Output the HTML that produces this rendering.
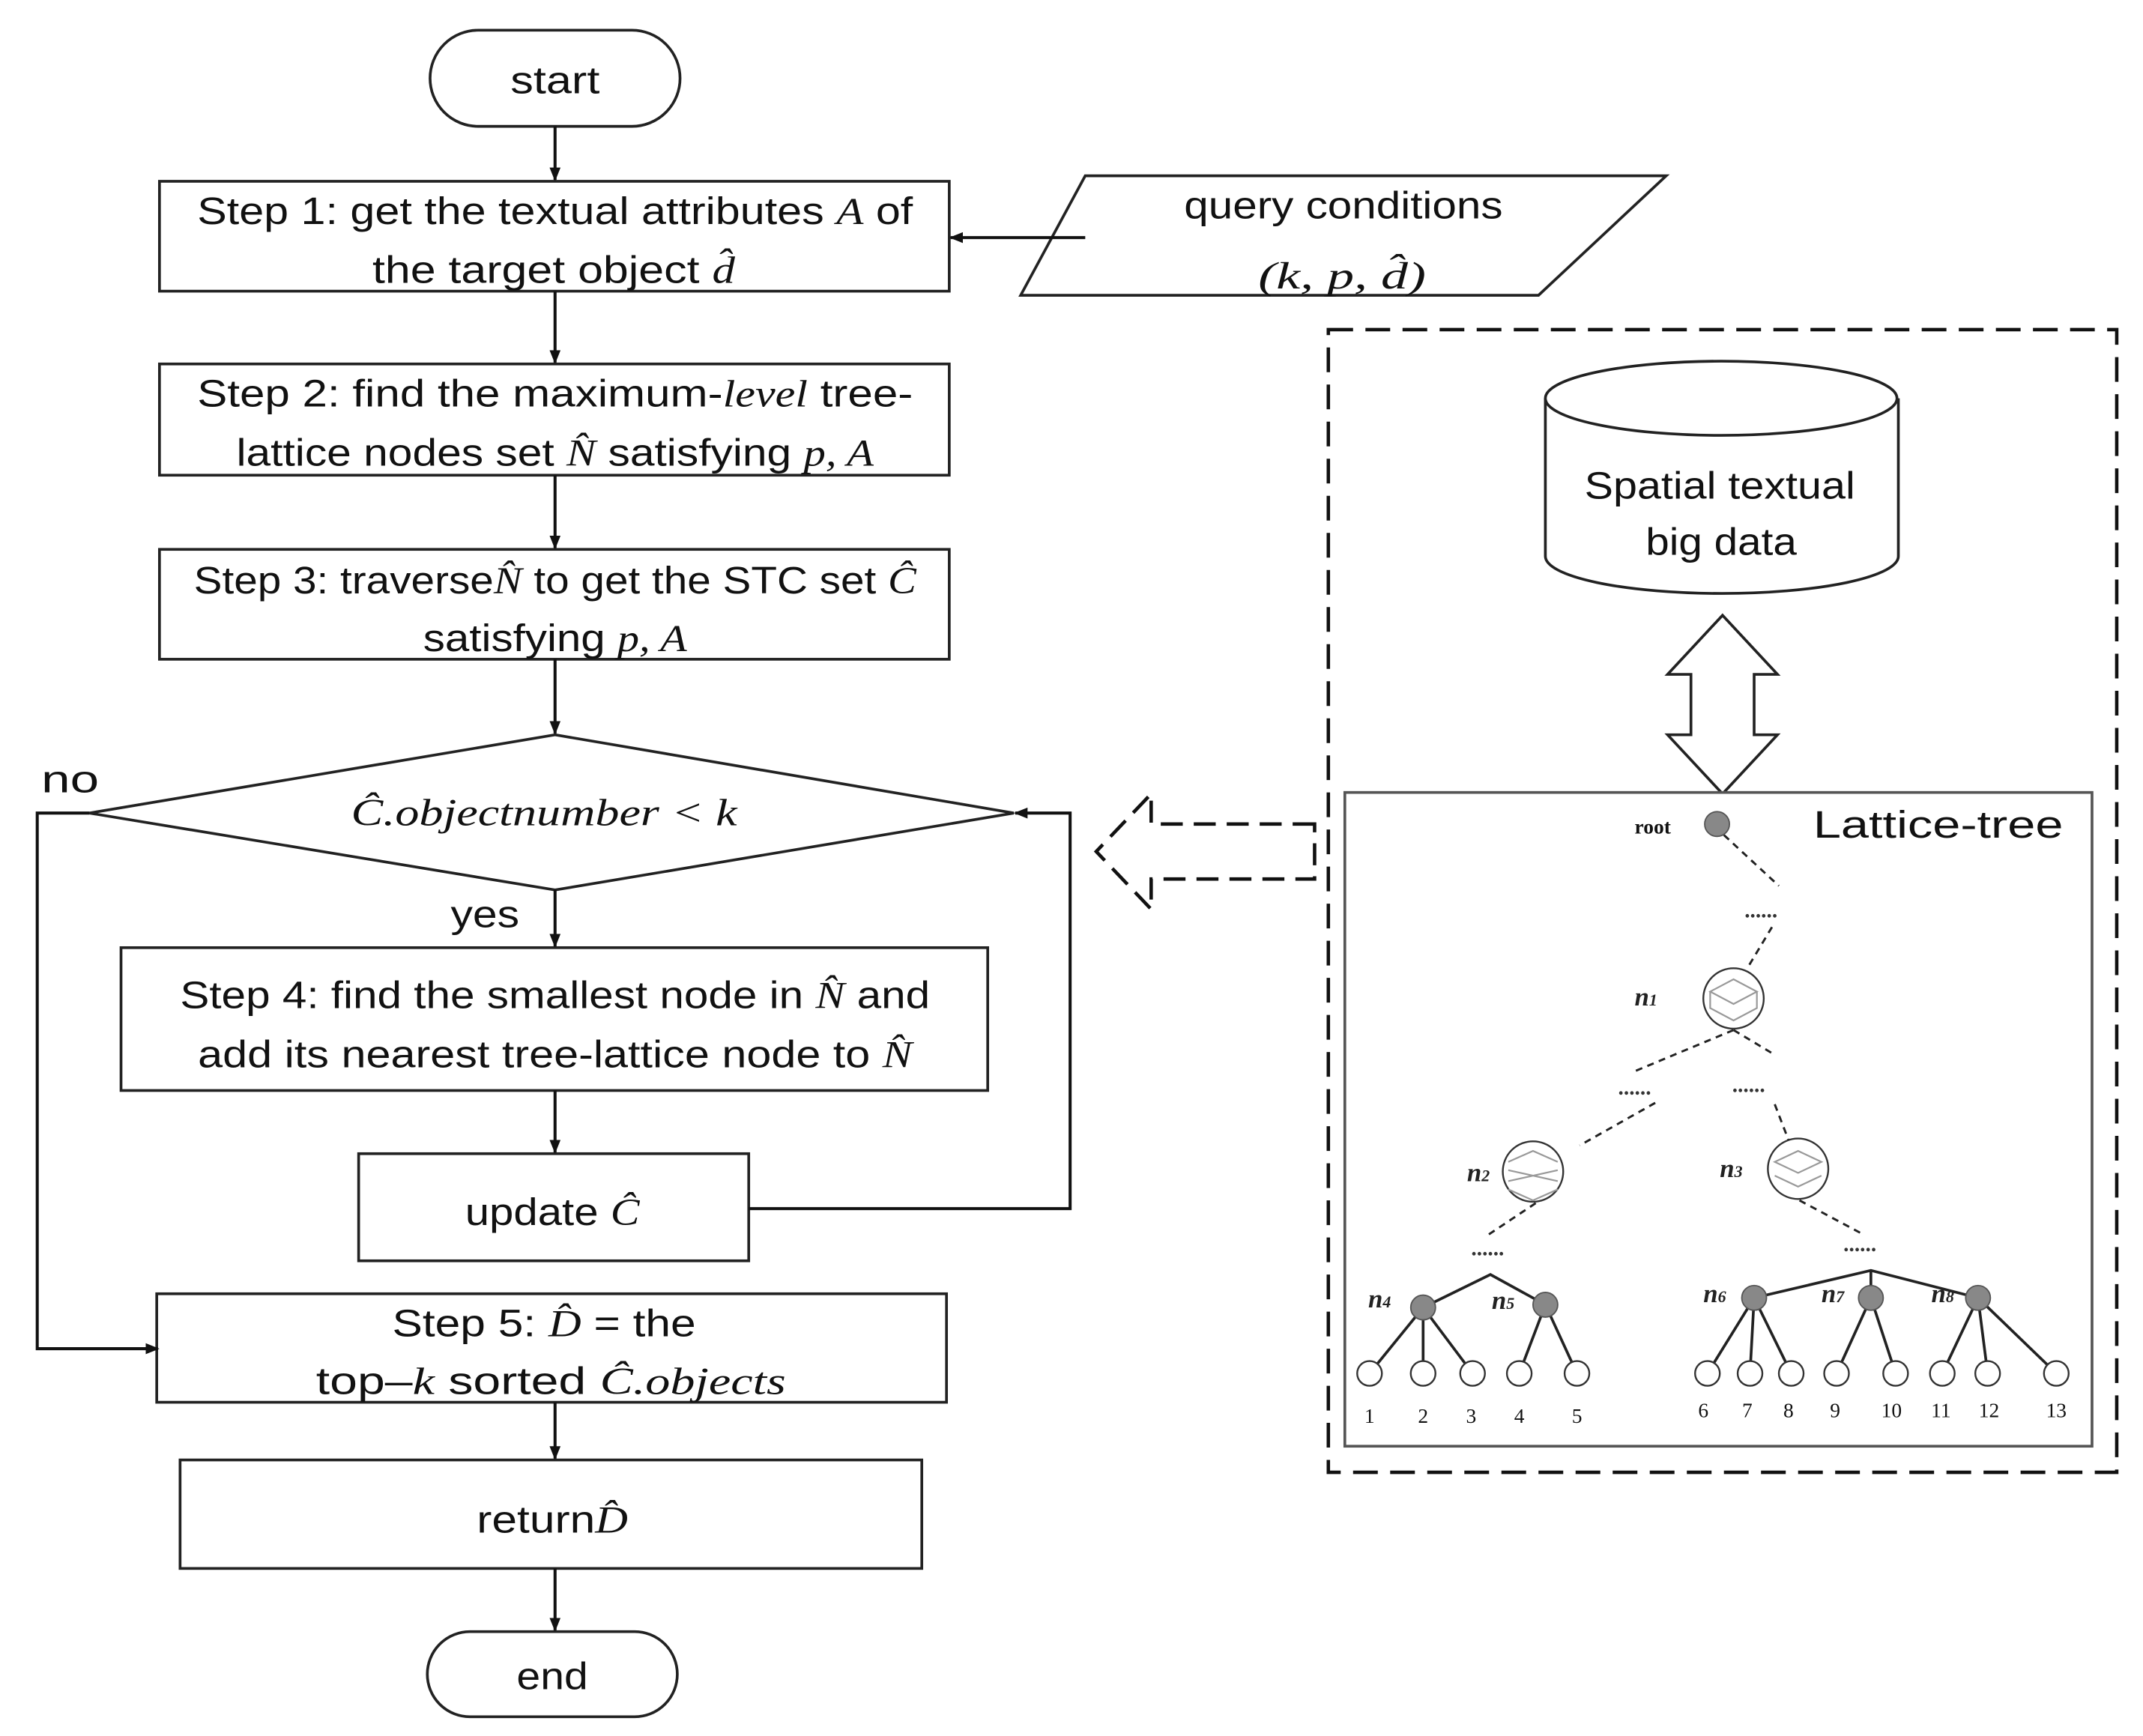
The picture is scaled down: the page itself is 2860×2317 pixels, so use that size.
<!DOCTYPE html>
<html><head><meta charset="utf-8"><style>html,body{margin:0;padding:0;background:#fff}svg{display:block}
.t{font-family:"Liberation Sans",sans-serif;font-size:28px;fill:#111}
.m{font-family:"Liberation Serif",serif;font-style:italic}
.s{font-family:"Liberation Serif",serif;font-size:15px;fill:#111}
.b{font-family:"Liberation Serif",serif;font-weight:bold;font-style:italic;font-size:19px;fill:#222}
</style></head><body>
<svg width="2860" height="2317" viewBox="0 0 1560 1264" xmlns="http://www.w3.org/2000/svg">
<defs><marker id="a" markerWidth="10" markerHeight="10" refX="9" refY="5" orient="auto" markerUnits="userSpaceOnUse"><path d="M0,1 L10,5 L0,9 z" fill="#111"/></marker></defs>
<g fill="none" stroke="#222" stroke-width="2">
<rect x="313" y="22" width="182" height="70" rx="35"/>
<rect x="116" y="132" width="575" height="80"/>
<path d="M790,128 L1213,128 L1120,215 L743,215 Z"/>
<rect x="116" y="265" width="575" height="81"/>
<rect x="116" y="400" width="575" height="80"/>
<path d="M404,535 L738,592 L404,648 L65,592 Z"/>
<rect x="88" y="690" width="631" height="104"/>
<rect x="261" y="840" width="284" height="78"/>
<rect x="114" y="942" width="575" height="79"/>
<rect x="131" y="1063" width="540" height="79"/>
<rect x="311" y="1188" width="182" height="62" rx="31"/>
</g>
<g stroke="#111" stroke-width="2.2" fill="none" marker-end="url(#a)">
<line x1="404" y1="92" x2="404" y2="131"/>
<line x1="790" y1="173" x2="692" y2="173"/>
<line x1="404" y1="212" x2="404" y2="264"/>
<line x1="404" y1="346" x2="404" y2="399"/>
<line x1="404" y1="480" x2="404" y2="534"/>
<line x1="404" y1="648" x2="404" y2="689"/>
<line x1="404" y1="794" x2="404" y2="839"/>
<path d="M65,592 L27,592 L27,982 L115,982"/>
<path d="M545,880 L779,880 L779,592 L739,592"/>
<line x1="404" y1="1021" x2="404" y2="1062"/>
<line x1="404" y1="1142" x2="404" y2="1187"/>
</g>
<text class="t" x="404" y="68" text-anchor="middle" textLength="65" lengthAdjust="spacingAndGlyphs">start</text>
<text class="t" x="404" y="163" text-anchor="middle" textLength="521" lengthAdjust="spacingAndGlyphs">Step 1: get the textual attributes <tspan class="m">A</tspan> of</text>
<text class="t" x="403" y="206" text-anchor="middle" textLength="264" lengthAdjust="spacingAndGlyphs">the target object <tspan class="m">d̂</tspan></text>
<text class="t" x="404" y="296" text-anchor="middle" textLength="521" lengthAdjust="spacingAndGlyphs">Step 2: find the maximum-<tspan class="m">level</tspan> tree-</text>
<text class="t" x="404" y="339" text-anchor="middle" textLength="464" lengthAdjust="spacingAndGlyphs">lattice nodes set <tspan class="m">N̂</tspan> satisfying <tspan class="m">p, A</tspan></text>
<text class="t" x="404" y="432" text-anchor="middle" textLength="526" lengthAdjust="spacingAndGlyphs">Step 3: traverse<tspan class="m">N̂</tspan>  to get the STC set <tspan class="m">Ĉ</tspan></text>
<text class="t" x="404" y="474" text-anchor="middle" textLength="192" lengthAdjust="spacingAndGlyphs">satisfying <tspan class="m">p, A</tspan></text>
<text class="t m" x="396" y="601" text-anchor="middle" textLength="281" lengthAdjust="spacingAndGlyphs">Ĉ.objectnumber &lt; k</text>
<text class="t" x="30" y="577" textLength="42" lengthAdjust="spacingAndGlyphs">no</text>
<text class="t" x="328" y="675" textLength="50" lengthAdjust="spacingAndGlyphs">yes</text>
<text class="t" x="404" y="734" text-anchor="middle" textLength="546" lengthAdjust="spacingAndGlyphs">Step 4: find the smallest node in <tspan class="m">N̂</tspan> and</text>
<text class="t" x="404" y="777" text-anchor="middle" textLength="520" lengthAdjust="spacingAndGlyphs">add its nearest tree-lattice node to <tspan class="m">N̂</tspan></text>
<text class="t" x="402" y="892" text-anchor="middle" textLength="127" lengthAdjust="spacingAndGlyphs">update <tspan class="m">Ĉ</tspan></text>
<text class="t" x="396" y="973" text-anchor="middle" textLength="221" lengthAdjust="spacingAndGlyphs">Step 5: <tspan class="m">D̂</tspan> = the</text>
<text class="t" x="401" y="1015" text-anchor="middle" textLength="342" lengthAdjust="spacingAndGlyphs">top–<tspan class="m">k</tspan> sorted <tspan class="m">Ĉ.objects</tspan></text>
<text class="t" x="402" y="1116" text-anchor="middle" textLength="110" lengthAdjust="spacingAndGlyphs">return<tspan class="m">D̂</tspan></text>
<text class="t" x="402" y="1230" text-anchor="middle" textLength="52" lengthAdjust="spacingAndGlyphs">end</text>
<text class="t" x="978" y="159" text-anchor="middle" textLength="232" lengthAdjust="spacingAndGlyphs">query conditions</text>
<text class="t m" x="977" y="210" text-anchor="middle" font-size="32" textLength="122" lengthAdjust="spacingAndGlyphs">(k, p, d̂)</text>
<rect x="967" y="240" width="574" height="832" fill="none" stroke="#111" stroke-width="2.5" stroke-dasharray="18,9"/>
<g fill="#fff" stroke="#222" stroke-width="2">
<path d="M1125,290 L1125,405 A128,27 0 0 0 1382,405 L1382,290"/>
<ellipse cx="1253" cy="290" rx="128" ry="27"/>
<path d="M1254,448 L1294,491 L1277,491 L1277,535 L1294,535 L1254,578 L1214,535 L1231,535 L1231,491 L1214,491 Z"/>
<rect x="979" y="577" width="544" height="476" stroke="#555"/>
</g>
<path d="M957,600 L838,600 L838,578 L798,620 L838,662 L838,640 L957,640 Z" fill="none" stroke="#111" stroke-width="2.5" stroke-dasharray="16,8"/>
<text class="t" x="1252" y="363" text-anchor="middle" textLength="197" lengthAdjust="spacingAndGlyphs">Spatial textual</text>
<text class="t" x="1253" y="404" text-anchor="middle" textLength="110" lengthAdjust="spacingAndGlyphs">big data</text>
<text class="t" x="1411" y="610" text-anchor="middle" font-size="32" textLength="182" lengthAdjust="spacingAndGlyphs">Lattice-tree</text>
<g stroke="#222" stroke-width="1.6" fill="none" stroke-dasharray="5,4">
<line x1="1255" y1="608" x2="1295" y2="645"/>
<line x1="1290" y1="675" x2="1272" y2="705"/>
<line x1="1262" y1="750" x2="1190" y2="780"/>
<line x1="1262" y1="750" x2="1292" y2="768"/>
<line x1="1205" y1="803" x2="1150" y2="834"/>
<line x1="1292" y1="804" x2="1302" y2="830"/>
<line x1="1118" y1="876" x2="1082" y2="900"/>
<line x1="1310" y1="874" x2="1355" y2="898"/>
</g>
<g font-family="Liberation Serif" font-size="16" fill="#333" font-weight="bold">
<text x="1270" y="668">......</text><text x="1178" y="797">......</text><text x="1261" y="795">......</text>
<text x="1071" y="914">......</text><text x="1342" y="911">......</text>
</g>
<g stroke="#222" stroke-width="2" fill="none">
<path d="M1036,952 L1085,928 L1125,950"/>
<path d="M1277,945 L1362,925 L1440,945 M1362,925 L1362,945"/>
<path d="M1036,952 L997,1000 M1036,952 L1036,1000 M1036,952 L1072,1000 M1125,950 L1106,1000 M1125,950 L1148,1000"/>
<path d="M1277,945 L1243,1000 M1277,945 L1274,1000 M1277,945 L1304,1000 M1362,945 L1337,1000 M1362,945 L1380,1000 M1440,945 L1414,1000 M1440,945 L1447,1000 M1440,945 L1497,1000"/>
</g>
<g fill="#fff" stroke="#333" stroke-width="1.3">
<circle cx="997" cy="1000" r="9"/><circle cx="1036" cy="1000" r="9"/><circle cx="1072" cy="1000" r="9"/><circle cx="1106" cy="1000" r="9"/><circle cx="1148" cy="1000" r="9"/>
<circle cx="1243" cy="1000" r="9"/><circle cx="1274" cy="1000" r="9"/><circle cx="1304" cy="1000" r="9"/><circle cx="1337" cy="1000" r="9"/><circle cx="1380" cy="1000" r="9"/><circle cx="1414" cy="1000" r="9"/><circle cx="1447" cy="1000" r="9"/><circle cx="1497" cy="1000" r="9"/>
<circle cx="1262" cy="727" r="22"/><circle cx="1116" cy="853" r="22"/><circle cx="1309" cy="851" r="22"/>
</g>
<g fill="none" stroke="#999" stroke-width="1.2">
<path d="M1245,722 L1262,713 L1279,722 L1262,731 Z M1245,722 L1245,734 L1262,743 L1279,734 L1279,722"/>
<path d="M1098,846 L1116,838 L1134,846 M1098,852 L1134,860 M1098,860 L1134,852 M1098,866 L1116,874 L1134,866"/>
<path d="M1292,846 L1309,838 L1326,846 L1309,854 Z M1292,856 L1309,864 L1326,856"/>
</g>
<g fill="#888" stroke="#555" stroke-width="1">
<circle cx="1250" cy="600" r="9"/><circle cx="1036" cy="952" r="9"/><circle cx="1125" cy="950" r="9"/>
<circle cx="1277" cy="945" r="9"/><circle cx="1362" cy="945" r="9"/><circle cx="1440" cy="945" r="9"/>
</g>
<text class="s" x="1190" y="607" font-weight="bold" font-size="16">root</text>
<text class="b" x="1190" y="732">n<tspan font-size="12">1</tspan></text>
<text class="b" x="1068" y="860">n<tspan font-size="12">2</tspan></text>
<text class="b" x="1252" y="857">n<tspan font-size="12">3</tspan></text>
<text class="b" x="996" y="952">n<tspan font-size="12">4</tspan></text>
<text class="b" x="1086" y="953">n<tspan font-size="12">5</tspan></text>
<text class="b" x="1240" y="948">n<tspan font-size="12">6</tspan></text>
<text class="b" x="1326" y="948">n<tspan font-size="12">7</tspan></text>
<text class="b" x="1406" y="948">n<tspan font-size="12">8</tspan></text>
<g class="s" text-anchor="middle" font-size="17">
<text x="997" y="1036">1</text><text x="1036" y="1036">2</text><text x="1071" y="1036">3</text><text x="1106" y="1036">4</text><text x="1148" y="1036">5</text>
<text x="1240" y="1032">6</text><text x="1272" y="1032">7</text><text x="1302" y="1032">8</text><text x="1336" y="1032">9</text><text x="1377" y="1032">10</text><text x="1413" y="1032">11</text><text x="1448" y="1032">12</text><text x="1497" y="1032">13</text>
</g>
</svg>
</body></html>
